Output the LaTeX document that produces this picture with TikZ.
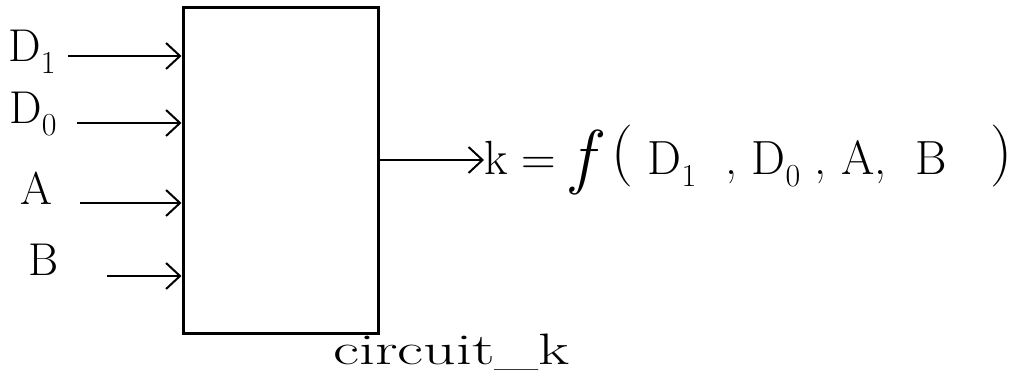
\documentclass[tikz,border=0pt]{standalone}
\usepackage{fontspec}
\usetikzlibrary{arrows.meta}
\newcommand{\sbs}[1]{\raisebox{-0.25em}{\fontsize{32}{34}\selectfont #1}}
\newcommand{\bigf}{\raisebox{-0.12em}{\fontsize{72}{74}\selectfont\textit{f}}}
\newcommand{\bigp}[1]{\raisebox{0.08em}{\fontsize{62}{64}\selectfont #1}}
\begin{document}
\begin{tikzpicture}[x=1pt,y=-1pt,
  blk/.style={draw,line width=3pt,minimum width=195pt,minimum height=326pt,inner sep=0pt},
  sig/.style={line width=1.8pt,-{Straight Barb[length=14pt,width=26pt,line width=2pt]}},
  lbl/.style={inner sep=0pt,font=\fontsize{46}{50}\selectfont}]
\useasboundingbox (0,0) rectangle (1021,387);
\node[lbl] (box) at (280.5,171) [blk] {};
\node[lbl] (d1) at (32,52) {D\sbs{1}};
\node[lbl] (d0) at (33,114) {D\sbs{0}};
\node[lbl] (a) at (36,188) {A};
\node[lbl] (b) at (44,260) {B};
\coordinate (s1) at (68,56);
\coordinate (s0) at (77,123);
\coordinate (sa) at (80,203);
\coordinate (sb) at (107,276);
\draw[sig] (s1) -- (s1 -| box.west);
\draw[sig] (s0) -- (s0 -| box.west);
\draw[sig] (sa) -- (sa -| box.west);
\draw[sig] (sb) -- (sb -| box.west);
\coordinate (o) at (378,160);
\node[lbl,anchor=west,font=\fontsize{48}{52}\selectfont] (k) at (484,160) {k = \bigf\,\bigp{(} D\sbs{1}\ \ , D\sbs{0}\ , A,\ \ B\ \ \ \bigp{)}};
\draw[sig] (o) -- (o -| k.west);
\node[lbl,anchor=north west,font=\fontsize{44}{48}\selectfont,xscale=1.45,transform shape] (name) at (333,334) {circuit\_k};
\end{tikzpicture}
\end{document}
